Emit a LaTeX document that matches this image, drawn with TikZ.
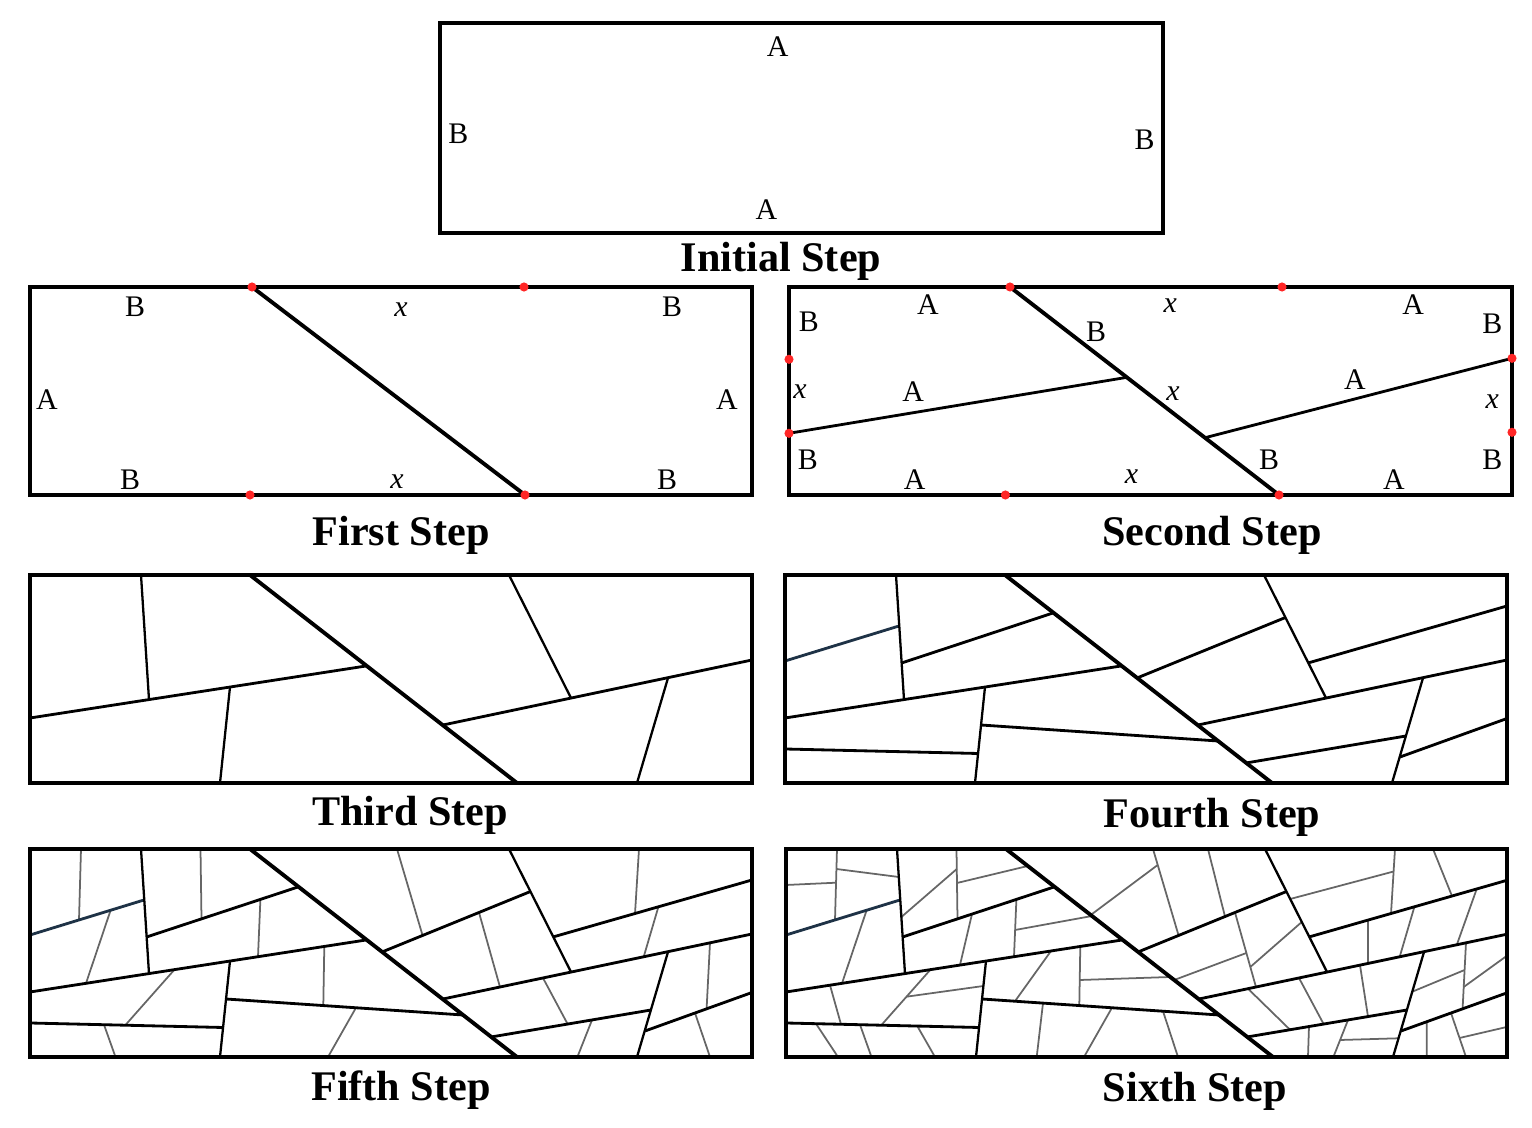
\documentclass[tikz,border=0pt]{standalone}
\usepackage{fontspec}
\setmainfont{Liberation Serif}
\definecolor{slate}{RGB}{30,50,70}
\tikzset{
  frame/.style={line width=1.3pt},
  cut/.style={line width=1.1pt},
  crack/.style={line width=0.8pt},
  subcrack/.style={line width=0.65pt},
  fine/.style={line width=0.5pt, draw=black!60},
  lbl/.style={font=\fontsize{8.5}{10}\selectfont, inner sep=0pt},
  caption/.style={font=\fontsize{12}{14}\selectfont\bfseries, inner sep=0pt},
  dot/.style={circle, fill=red!85!white, inner sep=0pt, minimum size=2.6pt}
}
\newcommand{\stepone}{\draw[cut] (220,0) -- (487,208);}
\newcommand{\steptwo}{\draw[crack] (0,143) -- (336,91) (413,150) -- (722,85);}
\newcommand{\stepthree}{\draw[subcrack] (111,0) -- (119,124.6) (200,112) -- (190,208)
    (479,0) -- (541,123) (638,103) -- (607,208);}
\newcommand{\stepfour}{%
  \draw[crack, draw=slate] (0,86) -- (114,51);
  \draw[crack] (116.6,88) -- (268,38) (352,103) -- (500,42.7) (523,88) -- (722,31)
    (196,150) -- (433,166) (0,174) -- (193,178.5) (461,188) -- (621,161)
    (615,182) -- (722,143.5);}
\newcommand{\stepfive}{%
  \draw[fine] (51,0) -- (49,71) (80.6,61.3) -- (56,134.3) (170.5,0) -- (171.5,69.9)
    (230.4,50.4) -- (228,107.7) (144.5,120.6) -- (95.3,176.2) (294.3,97.4) -- (293.3,156.5)
    (74,175.7) -- (85.5,208) (326,158.7) -- (298,208) (367,0) -- (392.6,86.5)
    (449,63.5) -- (470,138.1) (513,129) -- (537.6,175) (609,0) -- (605,64.8)
    (628.5,57.5) -- (613.7,107.8) (680,93.8) -- (676.6,159.8) (562,171) -- (547.4,208)
    (665,164) -- (680,208);}
\newcommand{\stepsix}{%
  \draw[fine] (0,36) -- (50.1,33.7) (50.4,20) -- (112.8,28) (115.4,68) -- (170.8,20)
    (171,34) -- (241.8,17) (229.1,81) -- (306,67) (186,65) -- (174,116)
    (44,136.2) -- (55,175.3) (120.5,147.7) -- (197.4,137) (30,174.7) -- (52,208)
    (131.3,177.1) -- (149,208) (265,102) -- (229,152.2) (304.7,66) -- (371.7,16)
    (422,0) -- (439,67.6) (464.3,118) -- (515.8,73) (388.2,131) -- (460.4,104)
    (462,139.7) -- (504,180.7) (294,131) -- (384.3,128) (257,154.1) -- (250.7,208)
    (377,162.2) -- (392,208) (504.2,50) -- (607.6,22.5) (647,0) -- (666,47)
    (690.7,40) -- (671,95.3) (582,71.1) -- (582,114.4) (722,106) -- (677.7,138)
    (626.3,142.7) -- (678.6,121) (574,116.1) -- (582,167.6) (673.5,189) -- (722,177.7)
    (523,177.5) -- (522,208) (554.1,191) -- (612.5,189.3) (640.7,172.8) -- (640.7,208);}

\begin{document}
\begin{tikzpicture}[x=0.01cm, y=-0.01cm]
  \useasboundingbox (0,0) rectangle (1532,1128);

  \begin{scope}[shift={(440,23)}]
    \draw[frame] (0,0) rectangle (723,210);
    \node[lbl] (a0t) at (337.6,23.7) {A};
    \node[lbl] (a0b) at (326.3,186.3) {A};
    \node[lbl] (b0l) at (18.3,111) {B};
    \node[lbl] (b0r) at (704.5,116.3) {B};
  \end{scope}
  \node[caption] (cap0) at (781,261) {Initial Step};

  \begin{scope}[shift={(30,287)}]
    \coordinate (c1t) at (222,0);
    \coordinate (c1b) at (495,208);
    \draw[cut] (c1t) -- (c1b);
    \draw[frame] (0,0) rectangle (722,208);
    \node[dot] (d1a) at (c1t) {};
    \node[dot] (d1b) at (494,0) {};
    \node[dot] (d1c) at (220,208) {};
    \node[dot] (d1d) at (c1b) {};
    \node[lbl] (b1a) at (105,20) {B};
    \node[lbl] (x1a) at (371,23) {\textit{x}};
    \node[lbl] (b1b) at (642,20) {B};
    \node[lbl] (a1a) at (17,113) {A};
    \node[lbl] (a1b) at (697,113) {A};
    \node[lbl] (b1c) at (100,193) {B};
    \node[lbl] (x1b) at (367,195) {\textit{x}};
    \node[lbl] (b1d) at (637,193) {B};
  \end{scope}
  \node[caption] (cap1) at (401,535) {First Step};

  \begin{scope}[shift={(789,287)}]
    \coordinate (c2t) at (221,0);
    \coordinate (c2b) at (490,208);
    \coordinate (c2l) at (0,146.3);
    \coordinate (c2m) at (337,90.5);
    \coordinate (c2n) at (415,151);
    \coordinate (c2r) at (723,71.3);
    \draw[cut] (c2t) -- (c2b);
    \draw[crack] (c2l) -- (c2m) (c2n) -- (c2r);
    \draw[frame] (0,0) rectangle (723,208);
    \node[dot] (d2a) at (c2t) {};
    \node[dot] (d2b) at (493,0) {};
    \node[dot] (d2c) at (0,72.3) {};
    \node[dot] (d2d) at (c2l) {};
    \node[dot] (d2e) at (c2r) {};
    \node[dot] (d2f) at (723,145.3) {};
    \node[dot] (d2g) at (216.4,208) {};
    \node[dot] (d2h) at (c2b) {};
    \node[lbl] (b2a) at (19.8,34.7) {B};
    \node[lbl] (a2a) at (138.8,18) {A};
    \node[lbl] (x2a) at (381.2,19) {\textit{x}};
    \node[lbl] (a2b) at (624.2,18) {A};
    \node[lbl] (b2b) at (703.3,36.3) {B};
    \node[lbl] (b2c) at (307.2,44.7) {B};
    \node[lbl] (x2b) at (11.1,104.7) {\textit{x}};
    \node[lbl] (a2c) at (124.2,104.7) {A};
    \node[lbl] (x2c) at (383.9,106.3) {\textit{x}};
    \node[lbl] (a2d) at (566,93) {A};
    \node[lbl] (x2d) at (703.3,114.7) {\textit{x}};
    \node[lbl] (b2d) at (18.9,173) {B};
    \node[lbl] (a2e) at (125.7,193) {A};
    \node[lbl] (x2e) at (342.6,189.7) {\textit{x}};
    \node[lbl] (b2e) at (480,173) {B};
    \node[lbl] (a2f) at (604.8,193) {A};
    \node[lbl] (b2f) at (703.3,173) {B};
  \end{scope}
  \node[caption] (cap2) at (1212,535) {Second Step};

  \begin{scope}[shift={(30,575)}]
    \stepthree \steptwo \stepone
    \draw[frame] (0,0) rectangle (722,208);
  \end{scope}
  \node[caption] (cap3) at (410,815) {Third Step};

  \begin{scope}[shift={(785,575)}]
    \stepfour \stepthree \steptwo \stepone
    \draw[frame] (0,0) rectangle (722,208);
  \end{scope}
  \node[caption] (cap4) at (1212,817) {Fourth Step};

  \begin{scope}[shift={(30,849)}]
    \stepfive \stepfour \stepthree \steptwo \stepone
    \draw[frame] (0,0) rectangle (722,208);
  \end{scope}
  \node[caption] (cap5) at (401,1090) {Fifth Step};

  \begin{scope}[shift={(786,849)}]
    \stepsix \stepfive \stepfour \stepthree \steptwo \stepone
    \draw[frame] (0,0) rectangle (721,208);
  \end{scope}
  \node[caption] (cap6) at (1195,1091) {Sixth Step};
\end{tikzpicture}
\end{document}
